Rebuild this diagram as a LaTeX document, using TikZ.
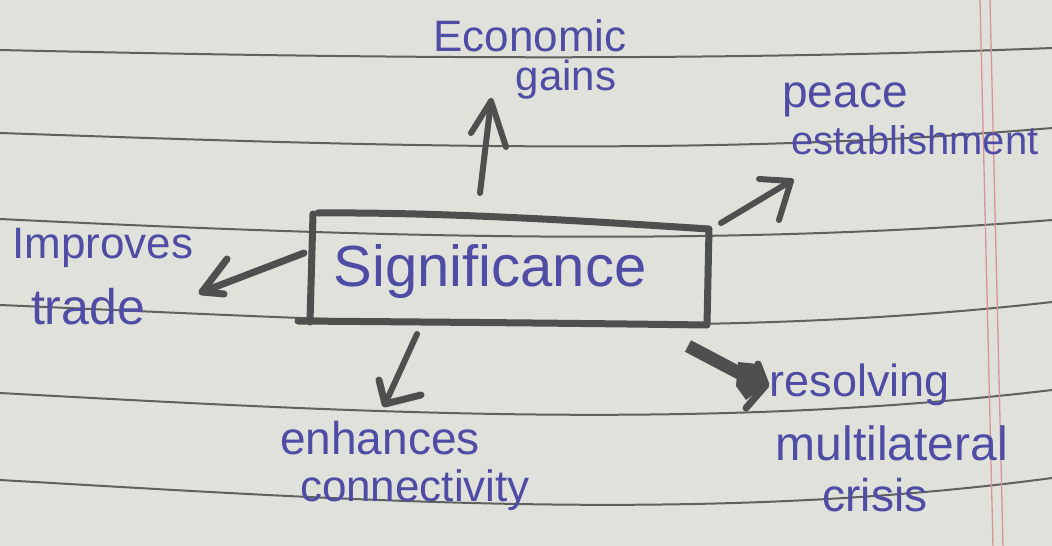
\documentclass[tikz,border=0pt]{standalone}
\usepackage{fontspec}
\setmainfont{Liberation Sans}
\definecolor{paperc}{RGB}{224,225,218}
\definecolor{rulec}{RGB}{95,97,95}
\definecolor{penc}{RGB}{78,80,79}
\definecolor{inkc}{RGB}{78,76,165}
\definecolor{marginc}{RGB}{215,150,150}
\begin{document}
\begin{tikzpicture}[x=1pt,y=-1pt,
  ink/.style={text=inkc, inner sep=0pt, anchor=center, font=\fontsize{44}{48}\selectfont},
  ruleline/.style={draw=rulec, line width=2pt},
  marginline/.style={draw=marginc, line width=1.3pt},
  arr/.style={draw=penc, line width=6pt, line cap=round, line join=round},
  fatarr/.style={draw=penc, line width=13pt, line cap=butt, line join=miter},
  boxline/.style={draw=penc, line width=7pt, line cap=round, line join=round}]
\fill[paperc] (0,0) rectangle (1052,546);
\useasboundingbox (0,0) rectangle (1052,546);
% ruled lines
\draw[ruleline] (0,50) .. controls (350,58) and (700,62) .. (1052,48);
\draw[ruleline] (0,133) .. controls (350,145) and (700,158) .. (1052,128);
\draw[ruleline] (0,219) .. controls (350,236) and (700,248) .. (1052,220);
\draw[ruleline] (0,305) .. controls (350,320) and (700,342) .. (1052,302);
\draw[ruleline] (0,393) .. controls (350,412) and (700,432) .. (1052,390);
\draw[ruleline] (0,480) .. controls (350,500) and (700,525) .. (1052,478);
% margin lines
\draw[marginline] (980,0) -- (993,546);
\draw[marginline] (990,0) -- (1003,546);
% central box
\draw[boxline] (318,213) .. controls (450,212) and (600,222) .. (709,229) -- (707,325) .. controls (560,323) and (420,322) .. (298,321);
\draw[boxline] (313,214) -- (310,322);
\node[ink, font=\fontsize{58}{62}\selectfont] (sig) at (490,272) {Significance};
% labels
\node[ink] (eco) at (530,36) {Economic};
\node[ink, font=\fontsize{42}{46}\selectfont] (gains) at (566,80) {gains};
\node[ink, font=\fontsize{46}{50}\selectfont] (peace) at (845,100) {peace};
\node[ink, font=\fontsize{40}{44}\selectfont] (estab) at (915,140) {establishment};
\node[ink, font=\fontsize{44}{48}\selectfont] (impr) at (103,248) {Improves};
\node[ink, font=\fontsize{50}{54}\selectfont] (trade) at (88,307) {trade};
\node[ink, font=\fontsize{46}{50}\selectfont] (enh) at (380,438) {enhances};
\node[ink] (conn) at (415,490) {connectivity};
\node[ink, font=\fontsize{45}{49}\selectfont] (res) at (860,385) {resolving};
\node[ink, font=\fontsize{48}{52}\selectfont] (multi) at (892,443) {multilateral};
\node[ink, font=\fontsize{46}{50}\selectfont] (cris) at (875,495) {crisis};
% arrow coordinates
\coordinate (upS) at (480,193); \coordinate (upT) at (491,101);
\coordinate (upL) at (471,133); \coordinate (upR) at (506,147);
\coordinate (urS) at (721,223); \coordinate (urT) at (791,181);
\coordinate (urL) at (759,179); \coordinate (urR) at (779,220);
\coordinate (lS) at (304,253); \coordinate (lT) at (202,292);
\coordinate (lU) at (227,259); \coordinate (lD) at (224,294);
\coordinate (dS) at (417,334); \coordinate (dT) at (385,404);
\coordinate (dL) at (379,380); \coordinate (dR) at (421,395);
\coordinate (brS) at (688,346); \coordinate (brT) at (766,385);
\coordinate (brU) at (758,364); \coordinate (brD) at (746,408);
% arrows
\draw[arr] (upS) -- (upT);
\draw[arr] (upL) -- (upT) -- (upR);
\draw[arr] (urS) -- (urT);
\draw[arr] (urL) -- (urT) -- (urR);
\draw[arr, line width=7pt] (lS) -- (lT);
\draw[arr, line width=7pt] (lU) -- (lT) -- (lD);
\draw[arr] (dS) -- (dT);
\draw[arr, line width=7pt] (dL) -- (dT) -- (dR);
\draw[fatarr] (brS) -- (745,376);
\draw[arr, line width=7pt] (brU) -- (brT) -- (brD);
\fill[penc] (738,362) -- (758,364) -- (766,385) -- (746,400) -- (736,386) -- cycle;
\end{tikzpicture}
\end{document}
